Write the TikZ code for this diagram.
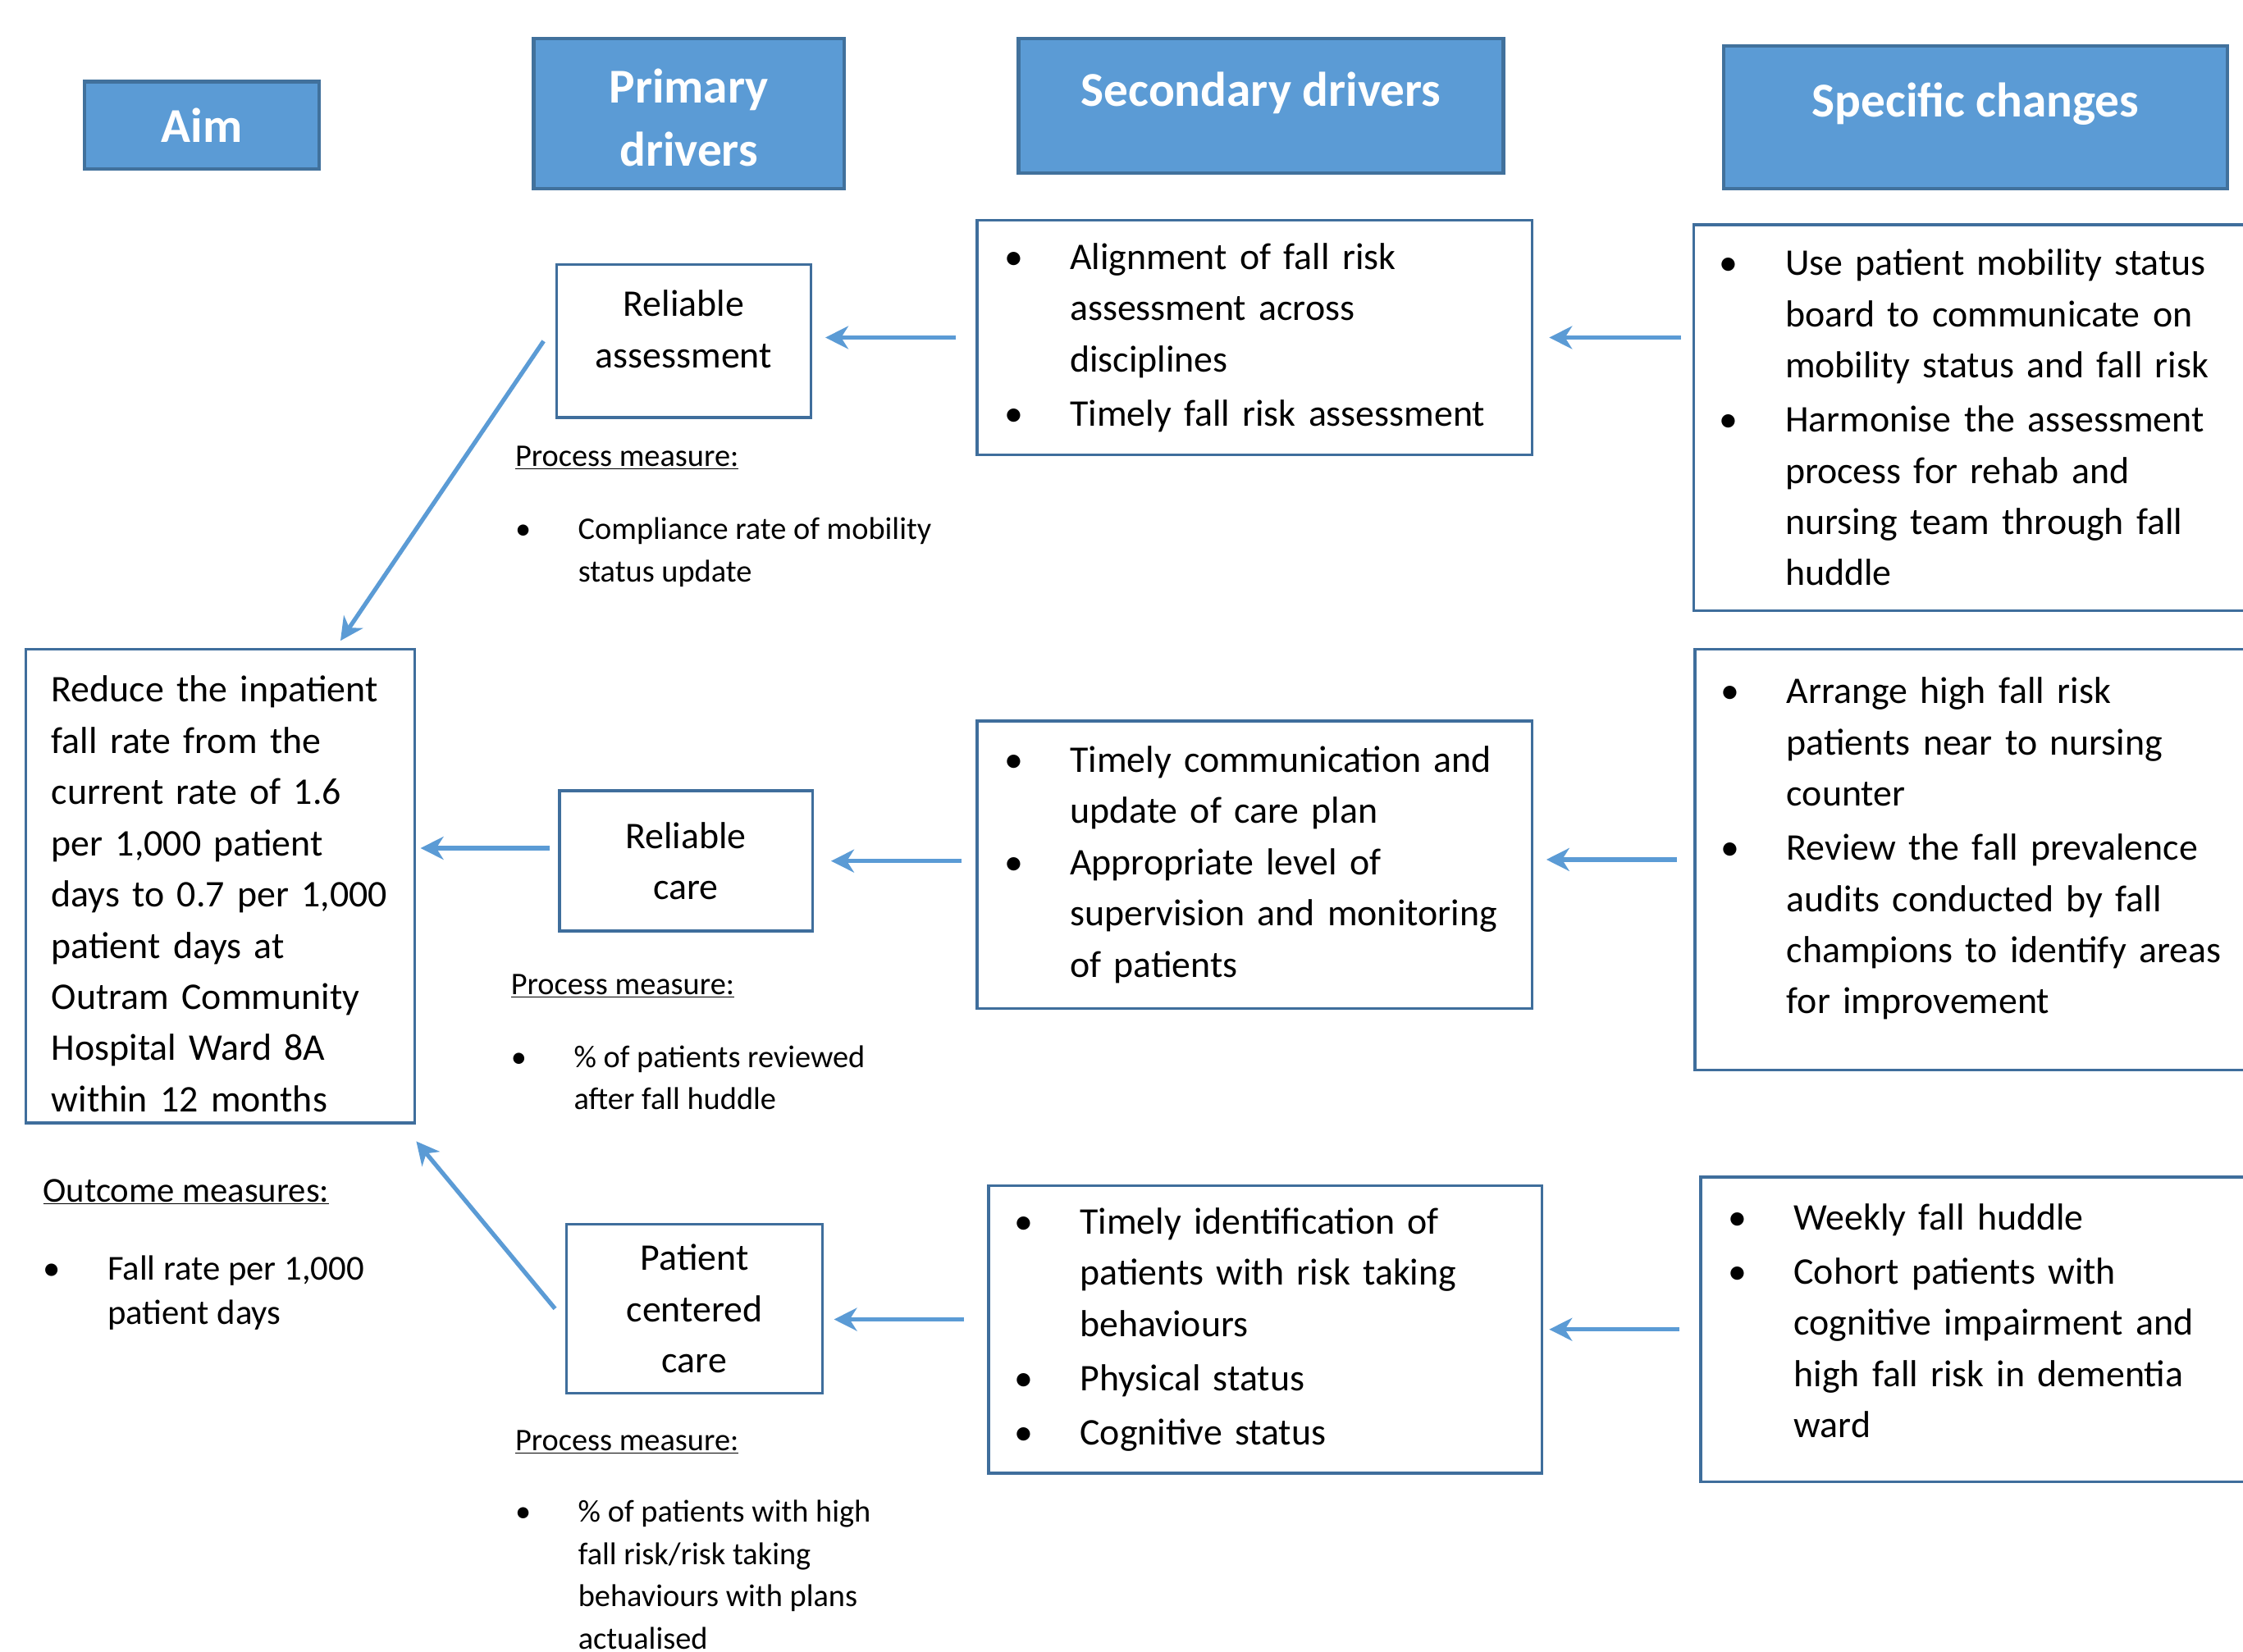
\documentclass[tikz,border=0pt]{standalone}
\usepackage{fontspec}
\setmainfont{Carlito}
\usetikzlibrary{arrows.meta, calc}

\definecolor{headfill}{HTML}{5B9BD5}
\definecolor{headline}{HTML}{41719C}
\definecolor{boxline}{HTML}{3F6E9C}
\definecolor{arrowblue}{HTML}{5B9BD5}

\newcommand{\bodyfont}{\fontsize{26.3}{35.8}\selectfont\hyphenpenalty=10000}
\newcommand{\smallfont}{\fontsize{22}{29.5}\selectfont}
\newcommand{\outfont}{\fontsize{24.5}{31}\selectfont}
\newcommand{\headfont}{\fontsize{34}{44}\selectfont\bfseries}
\newcommand{\bul}[1][46pt]{\makebox[#1][l]{\textbullet}}
\newcommand{\bulsp}[1][46pt]{\hspace*{#1}}

\tikzset{
    head/.style={draw=headline, line width=2.5pt, fill=headfill, text=white, font=\headfont, align=center},
    driver/.style={draw=boxline, line width=2pt, fill=white, font=\bodyfont, align=center},
    listbox/.style={draw=boxline, line width=2pt, fill=white, font=\bodyfont, align=left, inner ysep=0pt},
    measure/.style={font=\smallfont, align=left, inner sep=0pt, anchor=north west},
    link/.style={draw=arrowblue, line width=3pt, -{Stealth[length=16pt, width=16pt, inset=5pt]}},
}

\begin{document}
\begin{tikzpicture}[x=1pt, y=-1pt]
    \clip (0,0) rectangle (1568,1154.5);
    \fill[white] (0,0) rectangle (1568,1154.5);

    \node[head, minimum width=164pt, minimum height=61pt]  (AimHead)       at (141,87.5)   {Aim};
    \node[head, minimum width=217pt, minimum height=105pt] (PrimaryHead)   at (481.5,79.5) {\mbox{}\\[-14.5pt]Primary\\drivers};
    \node[head, minimum width=339pt, inner ysep=0pt, text height=47pt, text depth=47pt] (SecondaryHead) at (881.5,74) {Secondary drivers};
    \node[head, minimum width=352pt, inner ysep=0pt, text height=50pt, text depth=50pt] (ChangeHead)    at (1381,82)   {Specific changes};

    \node[listbox, text width=236pt, inner xsep=18pt, minimum height=331pt] (AimBox) at (154,619.5)
        {\mbox{}\\[-6.4pt]Reduce the inpatient\\fall rate from the\\current rate of 1.6\\per 1,000 patient\\days to 0.7 per 1,000\\patient days at\\Outram Community\\Hospital Ward 8A\\within 12 months};
    \node[font=\outfont, align=left, inner sep=0pt, anchor=north west] (Outcome) at (30,818.3)
        {\strut\underline{Outcome measures:}\\[24pt]\bul[45pt]Fall rate per 1,000\\\bulsp[45pt]patient days};

    \node[driver, minimum width=178pt, minimum height=107pt] (Primary1) at (478,238.5) {Reliable\\assessment\\[-19pt]\mbox{}};
    \node[driver, minimum width=177pt, minimum height=98pt]  (Primary2) at (479.5,602) {Reliable\\care};
    \node[driver, minimum width=179pt, minimum height=118pt] (Primary3) at (485.5,915) {Patient\\centered\\care};

    \node[measure] (Measure1) at (360,305.4)
        {\strut\underline{Process measure:}\\[21.5pt]\bul[44pt]Compliance rate of mobility\\\bulsp[44pt]status update};
    \node[measure] (Measure2) at (357,674.5)
        {\strut\underline{Process measure:}\\[21.5pt]\bul[44pt]\% of patients reviewed\\\bulsp[44pt]after fall huddle};
    \node[measure] (Measure3) at (360,993.5)
        {\strut\underline{Process measure:}\\[20.5pt]\bul[44pt]\% of patients with high\\\bulsp[44pt]fall risk/risk taking\\\bulsp[44pt]behaviours with plans\\\bulsp[44pt]actualised};

    \node[listbox, text width=350pt, inner xsep=19pt, minimum height=164pt] (Secondary1) at (877,236)
        {\bul Alignment of fall risk\\\bulsp assessment across\\\bulsp disciplines\\[2pt]\bul Timely fall risk assessment};
    \node[listbox, text width=350pt, inner xsep=19pt, minimum height=201pt] (Secondary2) at (877,604.5)
        {\bul Timely communication and\\\bulsp update of care plan\\\bul Appropriate level of\\\bulsp supervision and monitoring\\\bulsp of patients};
    \node[listbox, text width=351pt, inner xsep=18pt, minimum height=201pt] (Secondary3) at (884.5,929.5)
        {\bul Timely identification of\\\bulsp patients with risk taking\\\bulsp behaviours\\[2pt]\bul Physical status\\[2pt]\bul Cognitive status};

    \node[listbox, text width=380pt, inner xsep=18pt, minimum height=270pt] (Change1) at (1392,292)
        {\bul Use patient mobility status\\\bulsp board to communicate on\\\bulsp mobility status and fall risk\\[2pt]\bul Harmonise the assessment\\\bulsp process for rehab and\\\bulsp nursing team through fall\\\bulsp huddle};
    \node[listbox, text width=379pt, inner xsep=18pt, minimum height=294pt] (Change2) at (1392.5,601)
        {\bul Arrange high fall risk\\\bulsp patients near to nursing\\\bulsp counter\\[2pt]\bul Review the fall prevalence\\\bulsp audits conducted by fall\\\bulsp champions to identify areas\\\bulsp for improvement\\[-16.3pt]\mbox{}};
    \node[listbox, text width=373pt, inner xsep=19pt, minimum height=213pt] (Change3) at (1394.5,929.5)
        {\bul Weekly fall huddle\\[2pt]\bul Cohort patients with\\\bulsp cognitive impairment and\\\bulsp high fall risk in dementia\\\bulsp ward\\[-23.8pt]\mbox{}};

    \draw[link, shorten <=8pt, shorten >=11pt]  (Change1.west |- Secondary1.east) -- (Secondary1.east);
    \draw[link, shorten <=12pt, shorten >=9pt]  (Change2.west) -- (Change2.west -| Secondary2.east);
    \draw[link, shorten <=14pt, shorten >=4pt]  (Change3.west) -- (Secondary3.east);
    \draw[link, shorten <=14pt, shorten >=9pt]  (Secondary1.west) -- (Secondary1.west -| Primary1.east);
    \draw[link, shorten <=10pt, shorten >=12pt] (Secondary2.west |- Primary2.east) -- (Primary2.east);
    \draw[link, shorten <=16pt, shorten >=7pt]  ([yshift=7pt]Secondary3.west) -- ([yshift=7pt]Secondary3.west -| Primary3.east);
    \draw[link, shorten <=6pt, shorten >=3pt]   ([yshift=9pt]Primary2.west) -- ([yshift=9pt]Primary2.west -| AimBox.east);
    \draw[link] ([xshift=-8pt]Primary1.west) -- ([xshift=-53pt, yshift=5pt]AimBox.north east);
    \draw[link] ([xshift=-7pt]Primary3.west) -- ([yshift=-12pt]AimBox.south east);
\end{tikzpicture}
\end{document}
